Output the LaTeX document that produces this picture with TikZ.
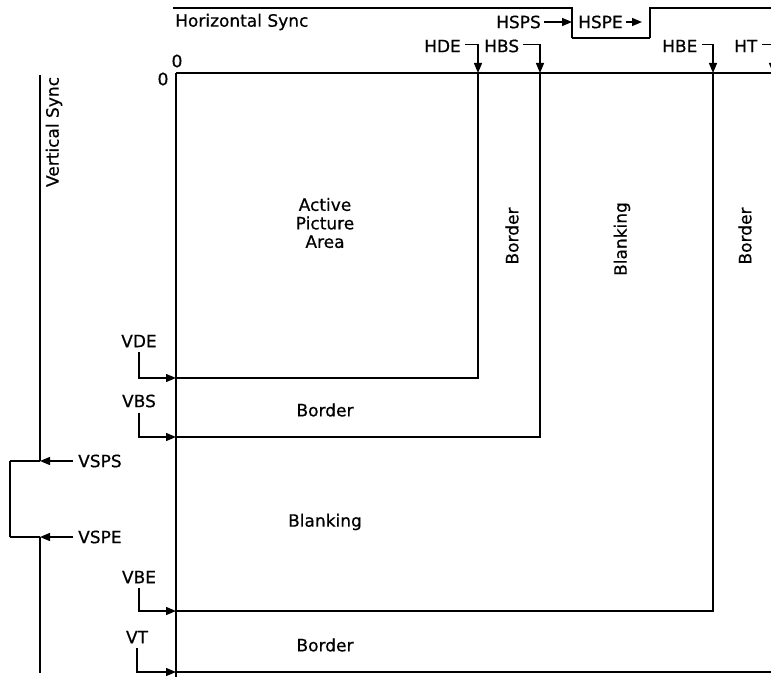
\documentclass[tikz,border=0pt]{standalone}
\usepackage{fontspec}
\setmainfont{DejaVu Sans}[FakeBold=0.6]
\usetikzlibrary{arrows.meta}
\begin{document}
\begin{tikzpicture}[x=1pt,y=-1pt,
  lbl/.style={font=\fontsize{17}{18.5}\selectfont, inner sep=0pt},
  vln/.style={line width=1.3pt},
  hln/.style={line width=2pt},
  arr/.style={-{Triangle[length=10pt,width=8pt]}, line width=1.3pt},
]
\useasboundingbox (0,0) rectangle (771,677);
\clip (0,0) rectangle (771,677);

% ---- coordinates
\coordinate (hdeT) at (478,73);
\coordinate (hbsT) at (540,73);
\coordinate (hbeT) at (713,73);
\coordinate (htT) at (773,73);
\coordinate (boxL) at (572,22);
\coordinate (boxR) at (642,22);
\coordinate (vdeT) at (176,378);
\coordinate (vbsT) at (176,437);
\coordinate (vbeT) at (176,611);
\coordinate (vtT) at (176,672);
\coordinate (vspsT) at (40,461);
\coordinate (vspeT) at (40,537);

% ---- horizontal sync waveform
\draw[hln] (173,8) -- (573,8);
\draw[vln] (572,8) -- (572,38);
\draw[hln] (572,38) -- (650,38);
\draw[vln] (650,38) -- (650,8);
\draw[hln] (649,8) -- (780,8);

% ---- vertical sync waveform
\draw[vln] (40,75) -- (vspsT);
\draw[hln] (vspsT) -- (10,461);
\draw[vln] (10,461) -- (10,537);
\draw[hln] (10,537) -- (vspeT);
\draw[vln] (vspeT) -- (40,673);

% ---- frame and regions
\draw[hln] (176,73) -- (780,73);
\draw[vln] (176,73) -- (176,677);
\draw[vln] (478,73) -- (478,378);
\draw[hln] (176,378) -- (479,378);
\draw[vln] (540,73) -- (540,437);
\draw[hln] (176,437) -- (541,437);
\draw[vln] (713,73) -- (713,611);
\draw[hln] (176,611) -- (714,611);
\draw[hln] (176,672) -- (780,672);

% ---- labels
\node[lbl, anchor=west] (hsync) at (175,22) {Horizontal Sync};
\node[lbl, anchor=east] (hsps) at (541,22) {HSPS};
\node[lbl, anchor=west] (hspe) at (578,22) {HSPE};
\node[lbl, anchor=west] (hde) at (424,46) {HDE};
\node[lbl, anchor=west] (hbs) at (484,46) {HBS};
\node[lbl, anchor=west] (hbe) at (662,46) {HBE};
\node[lbl, anchor=west] (ht) at (734,46) {HT};
\node[lbl] (zt) at (177,61) {0};
\node[lbl] (zl) at (163,79) {0};
\node[lbl, rotate=90] (vsync) at (54,132) {Vertical Sync};
\node[lbl] (vde) at (139,341) {VDE};
\node[lbl] (vbs) at (139,401) {VBS};
\node[lbl] (vbe) at (139,577) {VBE};
\node[lbl] (vt) at (137,637) {VT};
\node[lbl, anchor=west] (vsps) at (78,461) {VSPS};
\node[lbl, anchor=west] (vspe) at (78,537) {VSPE};

\node[lbl, align=center] (active) at (325,223) {Active\\Picture\\Area};
\node[lbl, rotate=90] (bord1) at (512,236) {Border};
\node[lbl, rotate=90] (blank1) at (622,239) {Blanking};
\node[lbl, rotate=90] (bord2) at (745,236) {Border};
\node[lbl] (bord3) at (325,410) {Border};
\node[lbl] (blank2) at (325,522) {Blanking};
\node[lbl] (bord4) at (325,645) {Border};

% ---- connectors
\draw[arr] ([xshift=3pt]hsps.east) -- (boxL);
\draw[arr] ([xshift=3pt]hspe.east) -- (boxR);
\draw[arr] ([xshift=4pt,yshift=1.5pt]hde.east) -| (hdeT);
\draw[arr] ([xshift=4pt,yshift=1.5pt]hbs.east) -| (hbsT);
\draw[arr] ([xshift=4pt,yshift=1.5pt]hbe.east) -| (hbeT);
\draw[arr] ([xshift=4pt,yshift=1.5pt]ht.east) -| (htT);
\draw[arr] ([yshift=-5pt]vde.south) |- (vdeT);
\draw[arr] ([yshift=-5pt]vbs.south) |- (vbsT);
\draw[arr] ([yshift=-5pt]vbe.south) |- (vbeT);
\draw[arr] ([yshift=-5pt]vt.south) |- (vtT);
\draw[arr] ([xshift=-5pt]vsps.west) -- (vspsT);
\draw[arr] ([xshift=-5pt]vspe.west) -- (vspeT);
\end{tikzpicture}
\end{document}
